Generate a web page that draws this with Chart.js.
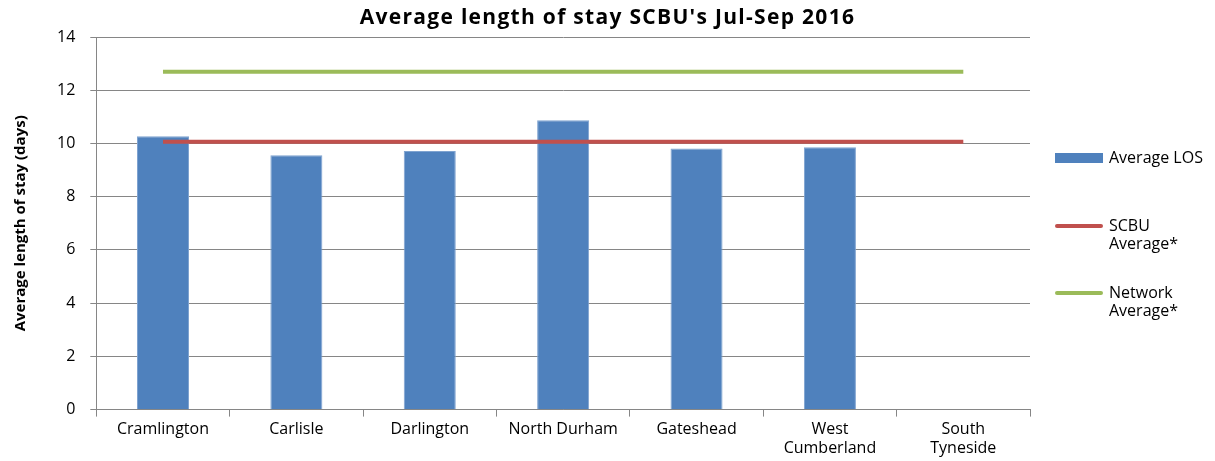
<!DOCTYPE html>
<html>
<head>
<meta charset="utf-8">
<script src="https://cdn.jsdelivr.net/npm/chart.js@4"></script>
<style>
  body { margin: 0; background: #fff; }
  #wrap { position: relative; width: 1215px; height: 461px; }
  #title {
    position: absolute; left: 0; width: 1215px; top: 2px; text-align: center;
    font: bold 21px "Open Sans", sans-serif; letter-spacing: 1.3px; color: #000;
  }
  #legend { position: absolute; left: 1055px; top: 0; font: 16px "Open Sans", sans-serif; color: #000; }
  .item { position: absolute; left: 0; white-space: nowrap; }
  .sw { position: absolute; left: 0; width: 48px; }
  .txt { position: absolute; left: 54px; line-height: 18px; }
</style>
</head>
<body>
<div id="wrap">
  <canvas id="chart" width="1215" height="461"></canvas>
  <div id="title">Average length of stay SCBU's Jul-Sep 2016</div>
  <div id="legend"></div>
</div>
<script>
// Chart data
const units = ['Cramlington', 'Carlisle', 'Darlington', 'North Durham', 'Gateshead', ['West', 'Cumberland'], ['South', 'Tyneside']];
const avgLos = [10.27, 9.56, 9.72, 10.87, 9.81, 9.86, null];
const scbuAvg = [10.06, 10.06, 10.06, 10.06, 10.06, 10.06, 10.06];
const networkAvg = [12.69, 12.69, 12.69, 12.69, 12.69, 12.69, 12.69];
const yTicks = [0, 2, 4, 6, 8, 10, 12, 14];

const blue = '#4F81BD', red = '#C0504D', green = '#9BBB59', grey = '#868686';

new Chart(document.getElementById('chart'), {
  data: {
    labels: units,
    datasets: [
      { type: 'line', label: 'Network Average*', data: networkAvg, borderColor: green, borderWidth: 4, pointRadius: 0, order: 1 },
      { type: 'line', label: 'SCBU Average*', data: scbuAvg, borderColor: red, borderWidth: 4, pointRadius: 0, order: 2 },
      { type: 'bar', label: 'Average LOS', data: avgLos, backgroundColor: blue, borderColor: '#7FA3D0', borderWidth: 1,
        barPercentage: 0.39, categoryPercentage: 1, order: 3 }
    ]
  },
  options: {
    responsive: false,
    animation: false,
    layout: { padding: { left: 8, right: 185, top: 37, bottom: 0 } },
    plugins: { legend: { display: false }, tooltip: { enabled: false } },
    scales: {
      x: {
        grid: { drawOnChartArea: false, color: grey, tickLength: 7, offset: true },
        border: { color: grey },
        ticks: { color: '#000', font: { family: 'Open Sans', size: 16 }, maxRotation: 0, autoSkip: false, padding: 3 }
      },
      y: {
        min: 0, max: 14,
        afterBuildTicks: axis => { axis.ticks = yTicks.map(v => ({ value: v })); },
        grid: { color: grey, tickLength: 6 },
        border: { color: grey },
        ticks: { color: '#000', font: { family: 'Open Sans', size: 16 }, padding: 15 },
        title: { display: true, text: 'Average length of stay (days)', color: '#000',
          font: { family: 'Open Sans', size: 15, weight: 'bold' }, padding: { bottom: 12 } }
      }
    }
  }
});

// legend on the right
const legendItems = [
  { text: ['Average LOS'], color: blue, box: true, y: 158 },
  { text: ['SCBU', 'Average*'], color: red, box: false, y: 226 },
  { text: ['Network', 'Average*'], color: green, box: false, y: 293 }
];
const legend = document.getElementById('legend');
legendItems.forEach(it => {
  const d = document.createElement('div');
  d.className = 'item';
  d.style.top = it.y + 'px';
  const sw = document.createElement('div');
  sw.className = 'sw';
  sw.style.background = it.color;
  sw.style.height = it.box ? '10px' : '4px';
  sw.style.top = it.box ? '-5px' : '-2px';
  if (!it.box) sw.style.borderRadius = '2px';
  const t = document.createElement('div');
  t.className = 'txt';
  t.style.top = '-10px';
  t.innerHTML = it.text.join('<br>');
  d.appendChild(sw);
  d.appendChild(t);
  legend.appendChild(d);
});
</script>
</body>
</html>
